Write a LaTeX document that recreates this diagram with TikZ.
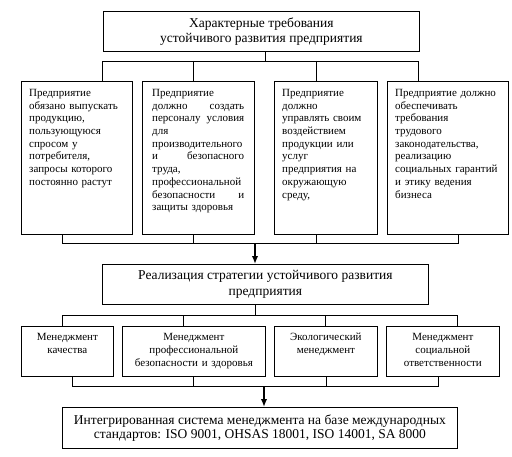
\documentclass[tikz,border=0pt]{standalone}
\usepackage{fontspec}
\setmainfont{Liberation Serif}
\usetikzlibrary{arrows.meta}
\begin{document}
\begin{tikzpicture}[x=1bp,y=-1bp,
  box/.style={draw, line width=0.8bp, inner sep=0, anchor=north west},
  big/.style={align=center, font=\fontsize{13.5bp}{15.5bp}\selectfont},
  small/.style={inner sep=0, anchor=base west, align=left, font=\fontsize{11bp}{12.7bp}\selectfont},
  mgmt/.style={inner sep=0, anchor=base, align=center, text width=140bp, font=\fontsize{11bp}{13bp}\selectfont},
  conn/.style={line width=0.8bp},
  arr/.style={line width=1.6bp, -{Latex[length=8bp,width=6.5bp]}}
]
\useasboundingbox (0,0) rectangle (512,457);
% top box
\node[box, big, minimum width=316bp, minimum height=40bp] (top) at (103,11)
  {Характерные требования\\устойчивого развития предприятия};
% row 1 boxes
\node[box, minimum width=111bp, minimum height=153bp] (b1) at (21,81) {};
\node[box, minimum width=112bp, minimum height=153bp] (b2) at (142,81) {};
\node[box, minimum width=103bp, minimum height=153bp] (b3) at (274,81) {};
\node[box, minimum width=121bp, minimum height=153bp] (b4) at (387,81) {};
\node[small, text width=100bp] (t1) at (29,96.5) {Предприятие\\обязано выпускать\\продукцию,\\пользующуюся\\спросом у\\потребителя,\\запросы которого\\постоянно растут};
\node[small, text width=92bp] (t2) at (152,96.5) {Предприятие\\должно \hfill создать\\персоналу \hfill условия\\для\\производительного\\и \hfill безопасного\\труда,\\профессиональной\\безопасности \hfill и\\защиты здоровья};
\node[small, text width=92bp] (t3) at (282,96.5) {Предприятие\\должно\\управлять своим\\воздействием\\продукции или\\услуг\\предприятия на\\окружающую\\среду,};
\node[small, text width=110bp] (t4) at (395,96.5) {Предприятие должно\\обеспечивать\\требования\\трудового\\законодательства,\\реализацию\\социальных гарантий\\и этику ведения\\бизнеса};
% middle box
\node[box, big, minimum width=326bp, minimum height=40bp] (mid) at (102,264)
  {Реализация стратегии устойчивого развития\\предприятия};
% row 3 boxes
\node[box, minimum width=92bp, minimum height=50bp] (m1) at (21,326) {};
\node[box, minimum width=143bp, minimum height=50bp] (m2) at (122,326) {};
\node[box, minimum width=103bp, minimum height=50bp] (m3) at (274,326) {};
\node[box, minimum width=113bp, minimum height=50bp] (m4) at (386,326) {};
\node[mgmt] (n1) at (m1.center |- 0,340) {Менеджмент\\качества};
\node[mgmt] (n2) at (m2.center |- 0,340) {Менеджмент\\профессиональной\\безопасности и здоровья};
\node[mgmt] (n3) at (m3.center |- 0,340) {Экологический\\менеджмент};
\node[mgmt] (n4) at (m4.center |- 0,340) {Менеджмент\\социальной\\ответственности};
% bottom box
\node[box, big, font=\fontsize{13.5bp}{14bp}\selectfont, minimum width=395bp, minimum height=41bp] (bot) at (62,407)
  {Интегрированная система менеджмента на базе международных\\стандартов: ISO 9001, OHSAS 18001, ISO 14001, SA 8000};
% connectors: top -> row 1
\coordinate (s0) at (265,61);
\coordinate (d1) at (102,61);
\coordinate (d2) at (193,61);
\coordinate (d3) at (316,61);
\coordinate (d4) at (418,61);
\draw[conn] (s0 |- top.south) -- (s0);
\draw[conn] (d1 |- b1.north) -- (d1) -- (d4) -- (d4 |- b4.north);
\draw[conn] (d2) -- (d2 |- b2.north);
\draw[conn] (d3) -- (d3 |- b3.north);
% row 1 -> mid
\coordinate (u1) at (62,243);
\coordinate (u2) at (193,243);
\coordinate (u3) at (316,243);
\coordinate (u4) at (458,243);
\coordinate (a1) at (255,243);
\draw[conn] (u1 |- b1.south) -- (u1) -- (u4) -- (u4 |- b4.south);
\draw[conn] (u2 |- b2.south) -- (u2);
\draw[conn] (u3 |- b3.south) -- (u3);
\draw[arr] (a1) -- (a1 |- mid.north);
% mid -> row 3
\coordinate (s1) at (255,315);
\coordinate (v1) at (62,315);
\coordinate (v2) at (183,315);
\coordinate (v3) at (325,315);
\coordinate (v4) at (457,315);
\draw[conn] (s1 |- mid.south) -- (s1);
\draw[conn] (v1 |- m1.north) -- (v1) -- (v4) -- (v4 |- m4.north);
\draw[conn] (v2) -- (v2 |- m2.north);
\draw[conn] (v3) -- (v3 |- m3.north);
% row 3 -> bottom
\coordinate (w1) at (72,386);
\coordinate (w2) at (193,386);
\coordinate (w3) at (326,386);
\coordinate (w4) at (438,386);
\coordinate (a2) at (264,386);
\draw[conn] (w1 |- m1.south) -- (w1) -- (w4) -- (w4 |- m4.south);
\draw[conn] (w2 |- m2.south) -- (w2);
\draw[conn] (w3 |- m3.south) -- (w3);
\draw[arr] (a2) -- (a2 |- bot.north);
\end{tikzpicture}
\end{document}
